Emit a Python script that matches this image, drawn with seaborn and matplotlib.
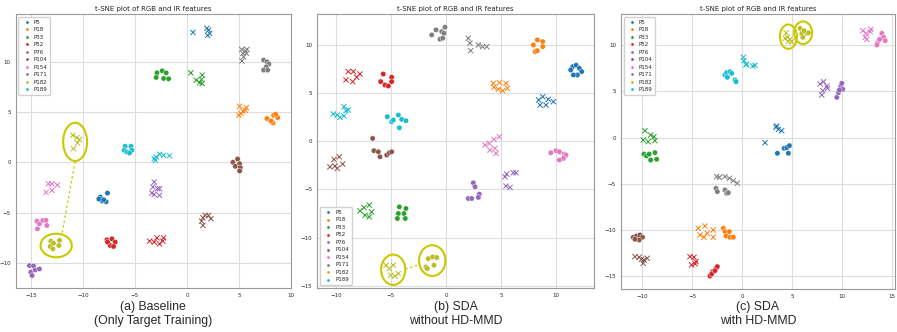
import numpy as np
import pandas as pd
import matplotlib
matplotlib.use("Agg")
import matplotlib.pyplot as plt
from matplotlib.patches import Ellipse
import seaborn as sns

ids = ["P5", "P18", "P33", "P52", "P76", "P104", "P154", "P171", "P182", "P189"]
title = "t-SNE plot of RGB and IR features"
captions = ["(a) Baseline\n(Only Target Training)",
            "(b) SDA\nwithout HD-MMD",
            "(c) SDA\nwith HD-MMD"]

# (a) baseline - circles = RGB, crosses = IR
base_rgb = {
    "P5": [(-8.33, -3.46), (-7.63, -3.06), (-8.14, -3.85), (-7.76, -3.92), (-8.46, -3.65), (-8.0, -3.72)],
    "P18": [(7.69, 4.35), (8.33, 4.68), (8.72, 4.45), (8.27, 3.92), (8.53, 4.78), (8.08, 4.12)],
    "P33": [(-2.88, 8.9), (-2.95, 8.44), (-2.37, 9.10), (-1.99, 8.9), (-2.24, 8.34), (-1.76, 8.31)],
    "P52": [(-7.69, -7.71), (-7.21, -7.61), (-6.89, -7.94), (-7.37, -8.27), (-7.05, -8.37), (-7.63, -7.94)],
    "P76": [(-15.13, -10.27), (-14.74, -10.30), (-15.0, -10.93), (-14.58, -10.70), (-14.17, -10.60), (-14.87, -11.26)],
    "P104": [(4.87, 0.33), (4.42, 0.0), (5.06, -0.13), (4.65, -0.40), (5.13, -0.53), (5.06, -0.86)],
    "P154": [(-14.42, -5.85), (-14.17, -6.11), (-14.36, -6.61), (-13.85, -5.78), (-13.53, -5.78), (-13.46, -6.28)],
    "P171": [(7.37, 10.17), (7.69, 10.0), (7.88, 9.77), (7.63, 9.5), (7.37, 9.17), (7.76, 9.17)],
    "P182": [(-13.08, -7.84), (-13.14, -8.37), (-12.82, -8.04), (-12.24, -7.77), (-12.31, -8.27), (-12.88, -8.6)],
    "P189": [(-5.93, 1.59), (-6.03, 1.2), (-5.77, 1.03), (-5.38, 1.59), (-5.29, 1.2), (-5.51, 0.93)],
}
base_ir = {
    "P5": [(0.58, 12.92), (1.92, 13.32), (2.18, 12.82), (1.99, 12.62), (2.08, 13.15)],
    "P18": [(5.06, 5.58), (5.19, 4.85), (5.71, 5.45), (5.61, 5.18), (5.0, 4.68), (5.38, 5.08)],
    "P33": [(0.38, 8.9), (0.9, 8.17), (1.22, 7.91), (1.47, 8.67), (1.41, 8.24), (1.47, 7.84)],
    "P52": [(-3.59, -7.84), (-3.14, -7.94), (-2.88, -7.51), (-2.63, -8.11), (-2.24, -7.51), (-2.31, -7.84)],
    "P76": [(-3.14, -1.96), (-3.27, -2.46), (-2.82, -2.62), (-2.63, -2.62), (-3.37, -3.06), (-3.14, -3.19), (-2.63, -3.29)],
    "P104": [(1.54, -5.51), (1.41, -5.85), (1.54, -6.28), (1.76, -5.28), (2.08, -5.28), (2.31, -5.61)],
    "P154": [(-13.3, -2.13), (-12.98, -2.13), (-12.44, -2.26), (-13.53, -2.99), (-12.98, -2.79)],
    "P171": [(5.26, 11.23), (5.38, 10.83), (5.45, 10.5), (5.61, 11.1), (5.77, 11.23), (5.71, 10.83), (5.29, 10.07)],
    "P182": [(-10.96, 2.69), (-10.58, 2.46), (-10.32, 2.26), (-10.51, 1.93), (-10.9, 1.36)],
    "P189": [(-3.14, 0.37), (-2.95, 0.53), (-2.63, 0.8), (-2.24, 0.7), (-1.67, 0.66), (-3.04, 0.2)],
}

# (b) SDA without HD-MMD
sda_rgb = {
    "P5": [(11.52, 7.78), (11.82, 7.92), (12.12, 7.6), (12.33, 7.26), (11.94, 6.91), (11.58, 6.91), (11.33, 7.43)],
    "P18": [(7.94, 10.03), (8.3, 10.56), (8.79, 10.38), (8.09, 9.34), (8.3, 9.44), (8.79, 9.86)],
    "P33": [(-4.24, -6.81), (-4.33, -7.5), (-4.42, -8.02), (-3.64, -6.98), (-3.82, -7.5), (-3.7, -8.02)],
    "P52": [(-5.7, 7.01), (-5.94, 6.22), (-5.55, 5.87), (-5.24, 5.76), (-4.94, 6.67), (-4.94, 6.22)],
    "P76": [(2.48, -4.31), (2.64, -4.72), (2.03, -5.94), (2.33, -5.94), (3.03, -5.49), (2.94, -5.83)],
    "P104": [(-6.67, 0.31), (-6.55, -0.97), (-6.15, -1.08), (-6.0, -1.6), (-5.39, -1.42), (-5.15, -1.18), (-4.94, -1.08)],
    "P154": [(9.52, -1.18), (10.0, -0.97), (10.3, -1.08), (10.73, -1.32), (10.91, -1.42), (10.67, -1.77), (10.3, -1.94)],
    "P171": [(-1.3, 11.08), (-0.91, 11.6), (-0.39, 11.42), (-0.55, 10.63), (-0.3, 10.73), (-0.09, 11.88), (-0.18, 11.25)],
    "P182": [(-1.82, -13.06), (-1.61, -12.19), (-1.21, -12.01), (-0.85, -12.08), (-1.09, -12.88), (-1.7, -13.23)],
    "P189": [(-5.33, 2.57), (-4.94, 2.05), (-4.79, 2.22), (-4.33, 2.74), (-4.03, 2.29), (-3.64, 2.15), (-4.24, 1.42)],
}
sda_ir = {
    "P5": [(8.42, 4.31), (8.79, 4.65), (8.55, 3.78), (9.09, 3.78), (9.3, 4.38), (9.76, 4.13)],
    "P18": [(4.3, 6.04), (4.85, 6.11), (4.36, 5.63), (4.76, 5.42), (5.15, 5.28), (5.45, 6.04), (5.58, 5.52)],
    "P33": [(-7.82, -7.22), (-7.36, -7.67), (-6.97, -6.63), (-6.76, -7.33), (-7.45, -6.88), (-6.97, -7.85)],
    "P52": [(-9.09, 6.39), (-8.88, 7.26), (-8.42, 7.26), (-8.48, 6.22), (-8.12, 6.67), (-7.82, 7.01)],
    "P76": [(5.36, -3.68), (5.52, -3.4), (6.12, -3.26), (6.36, -3.26), (5.45, -4.65), (5.82, -4.79)],
    "P104": [(-10.55, -2.64), (-10.18, -1.88), (-9.7, -1.6), (-10.09, -2.57), (-9.88, -2.81), (-9.39, -2.36)],
    "P154": [(3.55, -0.38), (3.94, -0.21), (4.36, 0.21), (4.85, 0.49), (4.0, -0.9), (4.45, -0.73), (4.55, -1.25)],
    "P171": [(2.03, 10.73), (2.18, 10.21), (2.24, 9.44), (2.94, 10.03), (3.33, 9.86), (3.7, 9.86)],
    "P182": [(-5.45, -12.88), (-5.15, -13.23), (-4.79, -12.88), (-5.03, -13.92), (-4.64, -14.03), (-4.33, -13.75)],
    "P189": [(-10.24, 2.85), (-9.88, 2.74), (-9.64, 2.5), (-9.27, 3.61), (-9.09, 3.19), (-8.88, 3.26), (-9.27, 2.64)],
}

# (c) SDA with HD-MMD
hd_rgb = {
    "P5": [(3.53, -1.71), (4.2, -1.17), (4.46, -1.1), (4.73, -0.88), (4.63, -1.71)],
    "P18": [(-1.88, -9.85), (-1.72, -10.21), (-1.28, -10.21), (-1.62, -10.68), (-1.22, -10.82), (-0.88, -10.82)],
    "P33": [(-9.83, -1.79), (-9.57, -2.0), (-9.3, -1.79), (-9.16, -2.44), (-8.73, -1.64), (-8.56, -2.36)],
    "P52": [(-3.22, -15.02), (-2.95, -14.55), (-2.62, -14.19), (-2.48, -14.0), (-3.05, -14.8), (-2.72, -14.44)],
    "P76": [(9.47, 4.36), (9.64, 4.87), (9.87, 5.59), (9.97, 5.88), (10.07, 5.23), (9.74, 5.16)],
    "P104": [(-10.9, -10.82), (-10.57, -10.68), (-10.23, -10.57), (-9.97, -10.82), (-10.3, -11.11), (-10.73, -11.04)],
    "P154": [(13.55, 10.29), (13.48, 10.04), (13.98, 11.3), (14.15, 10.87), (14.32, 10.51), (13.75, 10.65)],
    "P171": [(-2.62, -5.51), (-2.48, -5.87), (-1.72, -5.69), (-1.55, -6.05), (-1.38, -5.98)],
    "P182": [(5.8, 11.84), (5.97, 11.3), (6.07, 10.87), (6.47, 11.3), (6.63, 11.37), (6.2, 11.6)],
    "P189": [(-1.72, 6.78), (-1.55, 7.04), (-1.22, 7.14), (-1.05, 6.96), (-1.48, 6.53), (-0.71, 6.24), (-0.61, 6.06)],
}
hd_ir = {
    "P5": [(3.39, 1.11), (3.63, 0.89), (3.96, 0.74), (3.46, 1.25), (2.29, -0.56)],
    "P18": [(-4.39, -9.85), (-3.72, -9.6), (-4.22, -10.57), (-3.82, -10.82), (-3.49, -10.39), (-2.89, -10.03), (-2.89, -10.82)],
    "P33": [(-9.73, 0.74), (-9.9, -0.27), (-9.4, -0.45), (-9.16, 0.27), (-8.83, 0.09), (-8.73, -0.34)],
    "P52": [(-5.22, -12.92), (-4.82, -12.99), (-4.62, -13.46), (-5.06, -13.82), (-4.7, -13.7)],
    "P76": [(7.8, 5.81), (8.14, 6.06), (8.54, 5.34), (7.97, 4.61), (8.48, 5.59), (8.07, 5.08)],
    "P104": [(-10.73, -12.92), (-10.3, -12.99), (-10.07, -13.21), (-9.83, -13.28), (-9.5, -13.1), (-9.9, -13.64)],
    "P154": [(12.08, 11.59), (12.41, 11.3), (12.88, 11.74), (12.31, 10.87), (12.47, 10.65), (12.81, 11.48)],
    "P171": [(-2.55, -4.24), (-2.28, -4.32), (-1.72, -4.24), (-1.28, -4.42), (-0.88, -4.68), (-0.48, -4.97)],
    "P182": [(4.4, 11.37), (4.53, 10.87), (4.8, 10.65), (4.96, 10.4), (4.63, 10.4), (4.3, 10.76)],
    "P189": [(0.12, 8.7), (0.19, 8.34), (0.45, 7.98), (0.39, 7.87), (1.06, 7.76), (1.29, 7.83)],
}

limits = [((-16.45, 10.0), (-12.5, 14.75)),
          ((-11.7, 13.45), (-15.25, 13.25)),
          ((-12.15, 15.3), (-16.4, 13.4))]
legend_locs = ["upper left", "lower left", "upper left"]

# olive ellipses around P182 (center x, y, width, height)
rings = [
    [(-10.74, 2.03, 2.3, 3.8), (-12.56, -8.27, 3.0, 2.35)],
    [(-4.8, -13.35, 2.2, 3.15), (-1.25, -12.4, 2.4, 3.2)],
    [(4.63, 10.94, 1.7, 2.65), (6.1, 11.37, 1.8, 2.45)],
]
links = [((-10.74, 0.1), (-12.0, -7.1)), ((-3.7, -13.3), (-2.4, -12.8)), None]

sns.set_style("whitegrid")
plt.rcParams["axes.edgecolor"] = "#999999"
plt.rcParams["grid.color"] = "#dddddd"

fig = plt.figure(figsize=(8.97, 3.32), dpi=100)
boxes = [[0.0175, 0.1325, 0.3069, 0.8253],
         [0.3537, 0.1325, 0.3085, 0.8253],
         [0.6920, 0.1304, 0.3058, 0.8274]]
olive = "#c9c900"

for k, (rgb, ir) in enumerate([(base_rgb, base_ir), (sda_rgb, sda_ir), (hd_rgb, hd_ir)]):
    ax = fig.add_axes(boxes[k])
    df_rgb = pd.DataFrame([(p, x, y) for p, pts in rgb.items() for x, y in pts], columns=["id", "x", "y"])
    df_ir = pd.DataFrame([(p, x, y) for p, pts in ir.items() for x, y in pts], columns=["id", "x", "y"])
    sns.scatterplot(data=df_rgb, x="x", y="y", hue="id", hue_order=ids, palette="tab10",
                    marker="o", s=15, linewidth=0.3, edgecolor="w", ax=ax)
    sns.scatterplot(data=df_ir, x="x", y="y", hue="id", hue_order=ids, palette="tab10",
                    marker="x", s=14, linewidth=0.7, legend=False, ax=ax)
    sns.move_legend(ax, legend_locs[k], title=None, fontsize=4, markerscale=0.6,
                    handletextpad=0.2, labelspacing=0.45, borderpad=0.5, framealpha=0.9)
    for cx, cy, w, h in rings[k]:
        ax.add_patch(Ellipse((cx, cy), w, h, fill=False, edgecolor=olive, linewidth=1.5, zorder=5))
    if links[k] is not None:
        (x0, y0), (x1, y1) = links[k]
        ax.plot([x0, x1], [y0, y1], color=olive, linewidth=0.9, linestyle=(0, (2, 2)), zorder=5)
    ax.set_xticks([-15, -10, -5, 0, 5, 10, 15])
    ax.set_xlim(*limits[k][0])
    ax.set_ylim(*limits[k][1])
    ax.set_xlabel("")
    ax.set_ylabel("")
    ax.set_title(title, fontsize=5, pad=2)
    ax.tick_params(labelsize=4, length=2, width=0.5, pad=1.5, color="#555555")
    for sp in ax.spines.values():
        sp.set_linewidth(0.8)
    cx = boxes[k][0] + boxes[k][2] / 2
    fig.text(cx, 0.093, captions[k], ha="center", va="top", fontsize=8.8,
             family=["Liberation Sans", "DejaVu Sans"], linespacing=1.2)

fig.savefig("out.png", dpi=100)
